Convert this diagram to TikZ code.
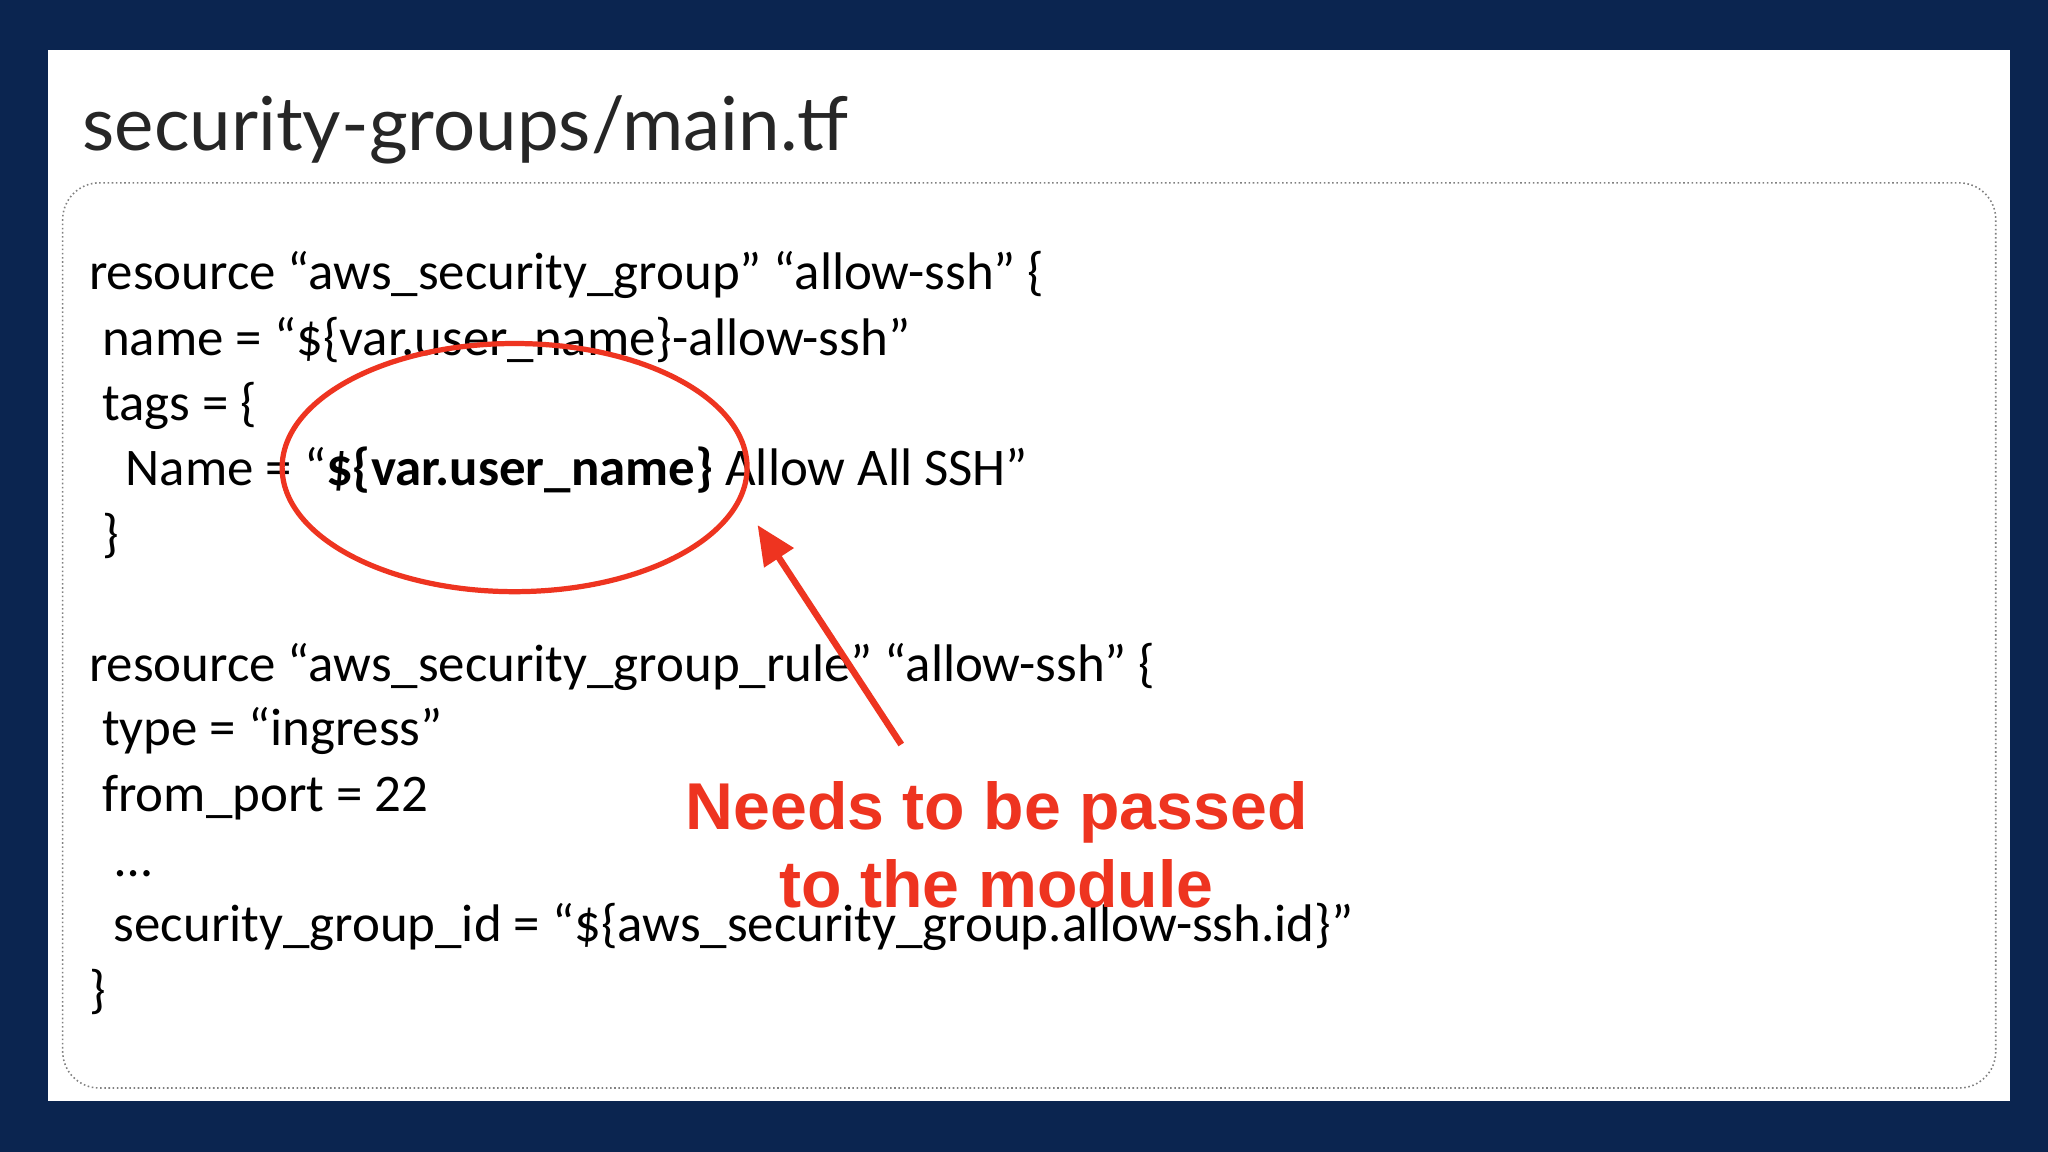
\documentclass[tikz,border=0pt]{standalone}
\usepackage{fontspec}
\setmainfont{Carlito}
\newfontfamily\titlefont{Lato}
\newfontfamily\redfont{Liberation Sans}
\usetikzlibrary{arrows.meta,shapes.geometric}
\definecolor{navy}{HTML}{0B2550}
\definecolor{alert}{HTML}{EE3420}
\tikzset{code/.style={anchor=base west,inner sep=0pt,font=\fontsize{40.5}{44}\selectfont},
 redtxt/.style={anchor=base,inner sep=0pt,text=alert,font=\redfont\bfseries\fontsize{50.7}{55}\selectfont}}
\begin{document}
\begin{tikzpicture}[x=1pt,y=-1pt]
\fill[navy] (0,0) rectangle (1568,882);
\fill[white] (37,38) rectangle (1539,843);
\node[anchor=base west,inner sep=0pt,font=\titlefont\fontsize{57}{62}\selectfont,text=black!85] (title) at (63,115) {security-groups/main.tf};
\draw[gray,dotted,line width=1.2pt,rounded corners=28pt] (48,140) rectangle (1528,833);
\node[code] (l1) at (68,222) {resource “aws\_security\_group” “allow-ssh” \{};
\node[code] (l2) at (78,272) {name = “\$\{var.user\_name\}-allow-ssh”};
\node[code] (l3) at (78,322) {tags = \{};
\node[code] (l4) at (96,372) {Name = “\textbf{\$\{var.user\_name\}} Allow All SSH”};
\node[code] (l5) at (78,422) {\}};
\node[code] (l6) at (68,522) {resource “aws\_security\_group\_rule” “allow-ssh” \{};
\node[code] (l7) at (78,571) {type = “ingress”};
\node[code] (l8) at (78,621) {from\_port = 22};
\node[code] (l9) at (88,671) {…};
\node[code] (l10) at (87,721) {security\_group\_id = “\$\{aws\_security\_group.allow-ssh.id\}”};
\node[code] (l11) at (68,771) {\}};
\node[draw=alert,line width=4pt,ellipse,minimum width=356pt,minimum height=190pt] (circ) at (394,358) {};
\node[redtxt] (r1) at (763,635) {Needs to be passed};
\node[redtxt] (r2) at (763,695) {to the module};
\coordinate (tail) at (690,570);
\coordinate (head) at (580,402);
\draw[alert,line width=5pt,-{Triangle[length=30pt,width=26pt]}] (tail) -- (head);
\end{tikzpicture}
\end{document}
